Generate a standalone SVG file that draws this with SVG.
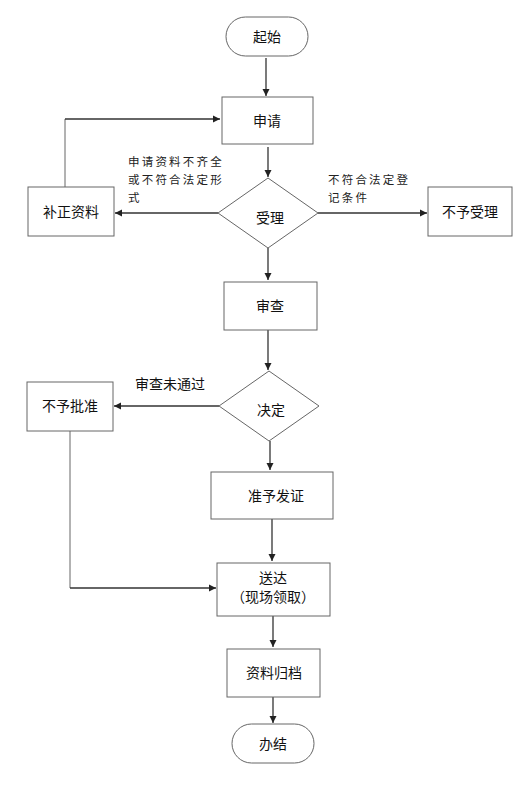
<svg xmlns="http://www.w3.org/2000/svg" width="513" height="788" viewBox="0 0 513 788">
<defs>
<marker id="ah" markerWidth="8" markerHeight="8" refX="7" refY="4" orient="auto" markerUnits="userSpaceOnUse">
<path d="M0,0.5 L7,4 L0,7.5 Z" fill="#222"/>
</marker>
<style>
.n{fill:#fff;stroke:#666;stroke-width:1}
.t{font-family:"Liberation Sans","Noto Sans CJK SC",sans-serif;font-size:14px;fill:#111;text-anchor:middle;dominant-baseline:central}
.l{font-family:"Liberation Sans","Noto Sans CJK SC",sans-serif;font-size:11.5px;fill:#222;letter-spacing:2.2px}
.c{fill:none;stroke:#333;stroke-width:1.3;marker-end:url(#ah)}
.p{fill:none;stroke:#666;stroke-width:1}
</style>
</defs>
<rect width="513" height="788" fill="#fff"/>
<g id="connectors">
<path class="c" d="M266,58 V96"/>
<path class="p" d="M65,187 V119"/>
<path class="c" d="M65,119 H220"/>
<path class="c" d="M268,147 V177"/>
<path class="c" d="M218,213 H115"/>
<path class="c" d="M318,213 H427"/>
<path class="c" d="M268,248 V280"/>
<path class="c" d="M268,330 V370"/>
<path class="c" d="M219,406 H114"/>
<path class="c" d="M270,441 V470"/>
<path class="p" d="M70,431 V588"/>
<path class="c" d="M70,588 H216"/>
<path class="c" d="M272,519 V561"/>
<path class="c" d="M273,616 V647"/>
<path class="c" d="M273,697 V723"/>
<text class="l" x="128" y="166">申请资料不齐全</text>
<text class="l" x="128" y="184">或不符合法定形</text>
<text class="l" x="128" y="202">式</text>
<text class="l" x="328" y="184">不符合法定登</text>
<text class="l" x="328" y="202">记条件</text>
<text class="t" x="170" y="384" style="font-size:14px">审查未通过</text>
</g>
<g id="start"><rect class="n" x="226" y="17" width="82" height="39" rx="19.5"/><text class="t" x="267" y="37">起始</text></g>
<g id="apply"><rect class="n" x="222" y="97" width="91" height="47"/><text class="t" x="267" y="121">申请</text></g>
<g id="accept"><polygon class="n" points="268,178 318,213 268,248 218,213"/><text class="t" x="270" y="218">受理</text></g>
<g id="supplement"><rect class="n" x="28" y="187" width="86" height="49"/><text class="t" x="71" y="212">补正资料</text></g>
<g id="reject"><rect class="n" x="428" y="187" width="84" height="49"/><text class="t" x="470" y="212">不予受理</text></g>
<g id="review"><rect class="n" x="224" y="282" width="93" height="48"/><text class="t" x="270" y="306">审查</text></g>
<g id="decide"><polygon class="n" points="269,371 319,406 269,441 219,406"/><text class="t" x="271" y="410">决定</text></g>
<g id="deny"><rect class="n" x="27" y="382" width="86" height="49"/><text class="t" x="70" y="406">不予批准</text></g>
<g id="grant"><rect class="n" x="211" y="472" width="122" height="47"/><text class="t" x="276" y="496">准予发证</text></g>
<g id="deliver"><rect class="n" x="217" y="563" width="113" height="53"/><text class="t" x="273" y="578">送达</text><text class="t" x="273" y="597">（现场领取）</text></g>
<g id="archive"><rect class="n" x="227" y="649" width="93" height="48"/><text class="t" x="274" y="673">资料归档</text></g>
<g id="end"><rect class="n" x="232" y="724" width="82" height="39" rx="19.5"/><text class="t" x="273" y="744">办结</text></g>
</svg>
